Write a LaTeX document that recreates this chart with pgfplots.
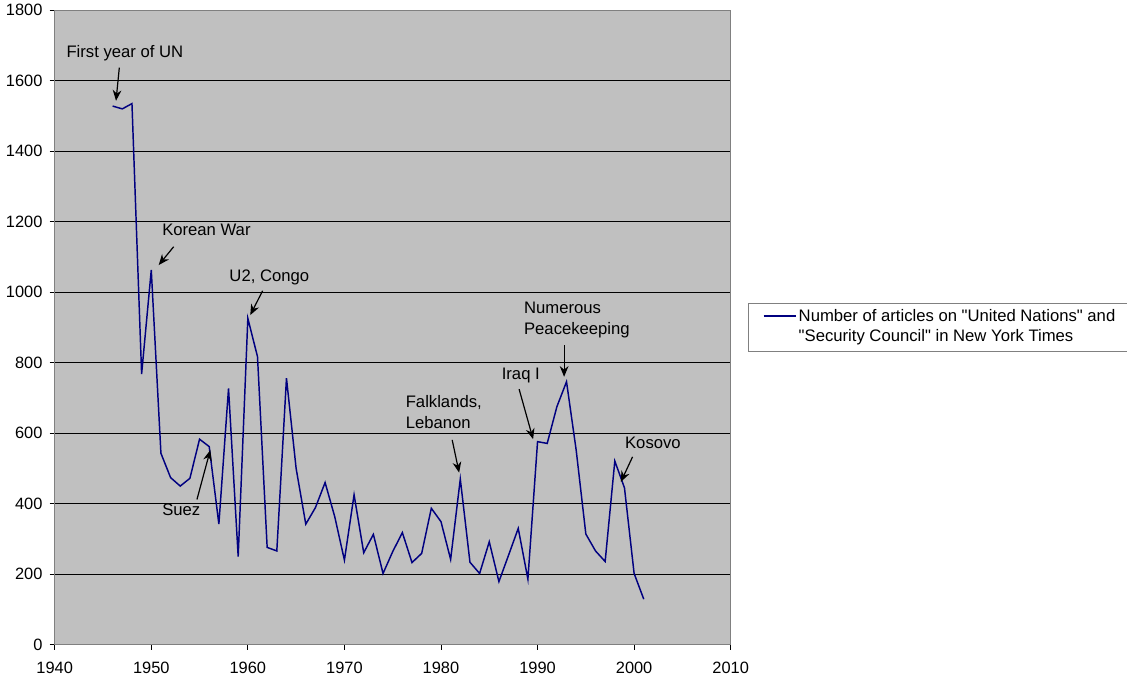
\documentclass[border=0pt]{standalone}
\usepackage{fontspec}
\setmainfont{Liberation Sans}
\newfontfamily\plainfont{Liberation Sans}
\usepackage{pgfplots}
\pgfplotsset{compat=1.18}
\usetikzlibrary{arrows.meta}

\definecolor{plotbg}{RGB}{192,192,192}
\definecolor{frame}{RGB}{128,128,128}
\definecolor{series}{RGB}{0,0,128}
\newcommand{\dq}{{\plainfont"}}

\begin{document}
\begin{tikzpicture}[
  note/.style={anchor=west, inner sep=0pt, align=left, font=\fontsize{12.5}{15.5}\selectfont},
  arr/.style={-{Stealth[length=8pt,width=6.5pt]}, line width=0.9pt, black}
]
% 1 px of the reference = 0.75pt
\useasboundingbox (-41.03pt,-27.23pt) rectangle (804.23pt,483.53pt);
\begin{axis}[
  at={(0,0)}, anchor=south west,
  scale only axis, width=507pt, height=475.88pt,
  xmin=1940, xmax=2010, ymin=0, ymax=1800,
  xtick={1940,1950,...,2010}, ytick={0,200,...,1800},
  axis background/.style={fill=plotbg},
  axis line style={draw=frame, line width=0.9pt},
  ymajorgrids, grid style={black, line width=0.6pt},
  tick align=outside, xtick pos=bottom, ytick pos=left,
  major tick length=3.75pt, tick style={black, line width=0.6pt},
  ticklabel style={font=\fontsize{12.3}{14}\selectfont},
  yticklabel style={inner xsep=5.25pt},
  xticklabel style={yshift=-6pt},
  /pgf/number format/assume math mode=true,
  /pgf/number format/1000 sep={},
  clip=false,
  legend style={at={(1.0256,0.539)}, anchor=north west, draw=frame, fill=white,
    line width=0.7pt, inner xsep=10.8pt, inner ysep=3pt,
    column sep=1.3pt,
    nodes={inner sep=0pt, text depth=},
    cells={anchor=base west},
    font=\fontsize{12.5}{15}\selectfont},
  legend image code/.code={\draw[#1] (0pt,3.75pt) -- (24.5pt,3.75pt);},
]
\addplot[series, line width=1.1pt] coordinates {
  (1946,1528) (1947,1520) (1948,1535) (1949,768) (1950,1063)
  (1951,543) (1952,474) (1953,450) (1954,472) (1955,583)
  (1956,562) (1957,342) (1958,727) (1959,250) (1960,926)
  (1961,817) (1962,276) (1963,266) (1964,756) (1965,500)
  (1966,342) (1967,389) (1968,460) (1969,363) (1970,240)
  (1971,425) (1972,261) (1973,313) (1974,202) (1975,264)
  (1976,318) (1977,233) (1978,259) (1979,387) (1980,349)
  (1981,242) (1982,470) (1983,234) (1984,202) (1985,292)
  (1986,179) (1987,254) (1988,330) (1989,186) (1990,576)
  (1991,571) (1992,675) (1993,746) (1994,552) (1995,314)
  (1996,266) (1997,236) (1998,521) (1999,445) (2000,202)
  (2001,129)
};
\addlegendentry{\begin{tabular}[t]{@{}l@{}}Number of articles on \dq United Nations\dq{} and\\\dq Security Council\dq{} in New York Times\end{tabular}}

% annotations
\node[note] at (axis cs:1941.2,1678) {First year of UN};
\draw[arr] (axis cs:1946.69,1637) -- (axis cs:1946.35,1543);
\node[note] at (axis cs:1951.11,1176) {Korean War};
\draw[arr] (axis cs:1952.32,1129) -- (axis cs:1950.77,1077);
\node[note] at (axis cs:1958.07,1042) {U2, Congo};
\draw[arr] (axis cs:1961.53,1004) -- (axis cs:1960.25,935);
\node[note] at (axis cs:1951.11,382) {Suez};
\draw[arr] (axis cs:1954.73,412) -- (axis cs:1956.11,552);
\node[note] at (axis cs:1976.33,660) {Falklands,\\Lebanon};
\draw[arr] (axis cs:1981.16,581) -- (axis cs:1981.88,488);
\node[note] at (axis cs:1986.27,765) {Iraq I};
\draw[arr] (axis cs:1988.09,725) -- (axis cs:1989.54,583);
\node[note] at (axis cs:1988.58,922) {Numerous\\Peacekeeping};
\draw[arr] (axis cs:1992.75,850) -- (axis cs:1992.75,760);
\node[note] at (axis cs:1999.04,573) {Kosovo};
\draw[arr] (axis cs:1999.84,533) -- (axis cs:1998.63,462);
\end{axis}
\end{tikzpicture}
\end{document}
